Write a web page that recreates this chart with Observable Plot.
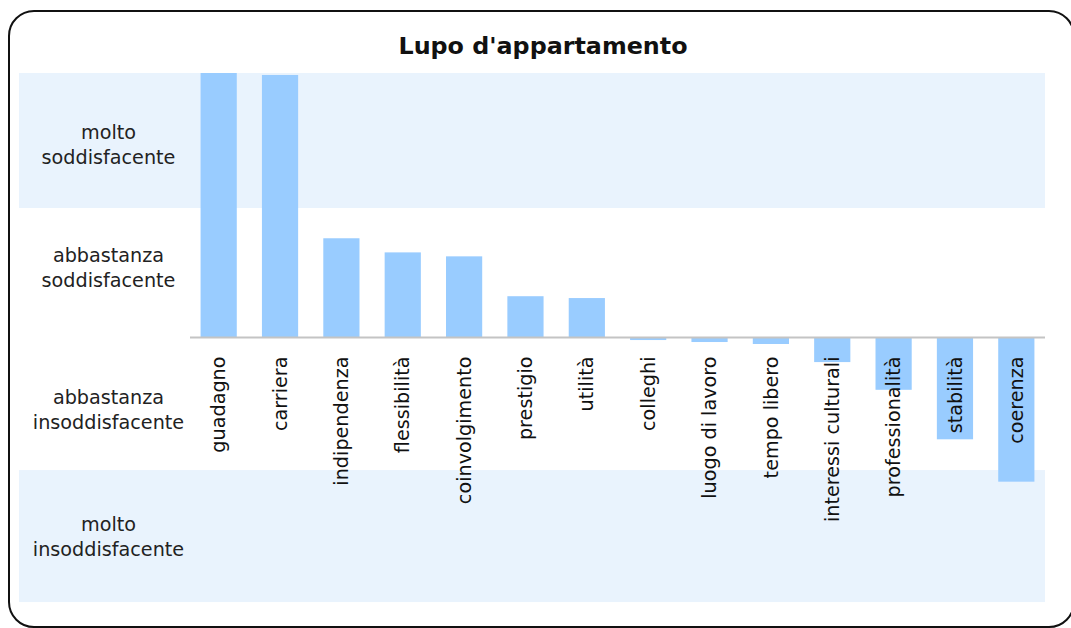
<!DOCTYPE html>
<html>
<head>
<meta charset="utf-8">
<script src="https://cdn.jsdelivr.net/npm/d3@7"></script>
<script src="https://cdn.jsdelivr.net/npm/@observablehq/plot@0.6"></script>
<style>
  html, body { margin: 0; padding: 0; background: #fff; overflow: hidden; }
  #page { position: absolute; left: 0; top: 0; width: 1071px; height: 628px; overflow: hidden; }
  #border { position: absolute; left: 8px; top: 10px; width: 1067px; height: 618px;
    border: 2px solid #111; border-radius: 26px; box-sizing: border-box; }
  #chart { position: absolute; left: 0; top: 0; }
  #chart svg { max-width: none !important; display: block; }
</style>
</head>
<body>
<div id="page"><div id="border"></div><div id="chart"></div></div>
<script>
const title = "Lupo d'appartamento";
const categories = ["guadagno", "carriera", "indipendenza", "flessibilità", "coinvolgimento", "prestigio", "utilità", "colleghi", "luogo di lavoro", "tempo libero", "interessi culturali", "professionalità", "stabilità", "coerenza"];
const values = [2.0, 1.985, 0.748, 0.641, 0.611, 0.309, 0.295, -0.023, -0.038, -0.053, -0.19, -0.40, -0.775, -1.096];
const levelLabels = ["molto\nsoddisfacente", "abbastanza\nsoddisfacente", "abbastanza\ninsoddisfacente", "molto\ninsoddisfacente"];
const levelPositions = [1.47, 0.54, -0.54, -1.5];
const bandRanges = [[0.977, 2], [-2.008, -1.008]];

const bars = categories.map((c, i) => ({category: c, value: values[i]}));
const levels = levelLabels.map((l, i) => ({label: l, pos: levelPositions[i]}));
const bands = bandRanges.map(([a, b]) => ({y1: a, y2: b}));

const font = "DejaVu Sans, Verdana, sans-serif";

const chart = Plot.plot({
  width: 1071,
  height: 628,
  marginTop: 73,
  marginBottom: 27,
  marginLeft: 188,
  marginRight: 24,
  style: {fontFamily: font, background: "transparent", color: "#222"},
  x: {domain: categories, paddingInner: 0.41, paddingOuter: 0.205, round: false, axis: null},
  y: {domain: [-2, 2], axis: null},
  marks: [
    Plot.rectY(bands, {y1: "y1", y2: "y2", fill: "#e9f3fd", insetLeft: -169, insetRight: 2}),
    Plot.barY(bars, {x: "category", y: "value", fill: "#99ccff"}),
    Plot.ruleY([0], {stroke: "#c4c4c4", strokeWidth: 2, insetLeft: 2, insetRight: 2}),
    Plot.text(bars, {x: "category", y: () => 0, text: "category", rotate: -90, textAnchor: "end",
      dy: 19, fontSize: 19.2, fill: "#111"}),
    Plot.text(levels, {y: "pos", text: "label", frameAnchor: "left", dx: -80, textAnchor: "middle",
      lineHeight: 1.3, fontSize: 19.2, fill: "#222"}),
    Plot.text([title], {text: d => d, frameAnchor: "top", dx: -75, dy: -36, fontSize: 23.8, fontWeight: "bold", fill: "#111"})
  ]
});
document.getElementById("chart").appendChild(chart);
</script>
</body>
</html>
